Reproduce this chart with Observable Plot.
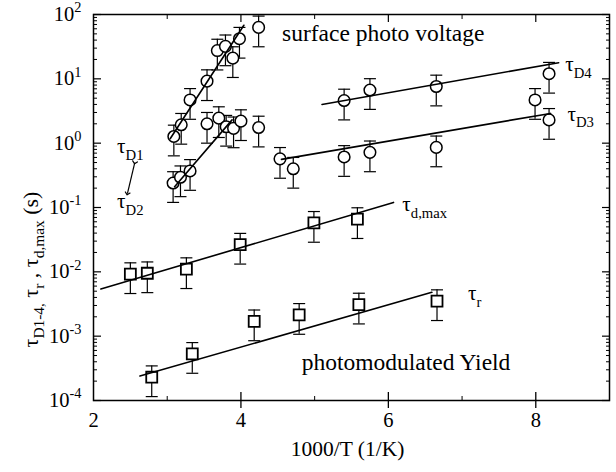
<!DOCTYPE html>
<html><head><meta charset="utf-8">
<script src="https://cdn.jsdelivr.net/npm/d3@7"></script>
<script src="https://cdn.jsdelivr.net/npm/@observablehq/plot@0.6"></script>
<style>body{margin:0;background:#fff}</style>
</head><body><div id="chart"></div>
<script>
// ---- data (1000/T in 1/K, time constants in s) ----
const d1X = [3.09, 3.19, 3.31, 3.54, 3.68, 3.79, 3.89, 3.98, 4.24];
const d1Y = [1.27, 1.93, 4.7, 9.2, 27.5, 32, 21, 42, 63];
const d2X = [3.08, 3.18, 3.31, 3.54, 3.70, 3.80, 3.90, 4.00, 4.24];
const d2Y = [0.24, 0.295, 0.37, 2.0, 2.45, 1.8, 1.7, 2.2, 1.75];
const d3X = [4.53, 4.71, 5.40, 5.75, 6.65, 8.18];
const d3Y = [0.57, 0.40, 0.61, 0.72, 0.86, 2.3];
const d4X = [5.40, 5.75, 6.65, 7.99, 8.18];
const d4Y = [4.6, 6.7, 7.6, 4.7, 12];
const dmaxX = [2.50, 2.73, 3.26, 3.99, 4.99, 5.58];
const dmaxY = [0.0092, 0.0095, 0.011, 0.0264, 0.0577, 0.066];
const rX = [2.79, 3.34, 4.18, 4.79, 5.60, 6.66];
const rY = [0.00023, 0.00053, 0.0017, 0.00214, 0.0031, 0.0035];
const relErr = 0.5; // error bars: +/- 50 %

// fitted lines: [x, y] end points
const fitD1 = [[3.04, 1.17], [4.04, 68]];
const fitD2 = [[3.10, 0.21], [3.88, 2.3]];
const fitD3 = [[4.55, 0.56], [8.20, 2.9]];
const fitD4 = [[5.10, 4.0], [8.31, 17.8]];
const fitDmax = [[2.10, 0.0054], [6.07, 0.12]];
const fitR = [[2.63, 0.00024], [6.59, 0.0048]];

// annotations
const seriesLabels = ["τ_{D4}", "τ_{D3}", "τ_{d,max}", "τ_{r}", "τ_{D1}", "τ_{D2}"];
const seriesLabelX = [8.40, 8.43, 6.19, 7.08, 2.32, 2.32];
const seriesLabelY = [16.7, 2.84, 0.111, 0.0046, 0.885, 0.124];
const titles = ["surface photo voltage", "photomodulated Yield"];
const titleX = [5.93, 6.24];
const titleY = [50.7, 0.00039];
const arrowFrom = [2.56, 0.5];
const arrowTo = [2.46, 0.164];

const xTicks = [2, 4, 6, 8];
const yTicks = [1e-4, 1e-3, 1e-2, 1e-1, 1, 10, 100];
const xTitle = "1000/T (1/K)";
const yTitle = "τ_{D1-4,} τ_{r} , τ_{d,max} (s)";

// ---- build tables ----
const zip = (xs, ys, s) => xs.map((x, i) => ({x, y: ys[i], s}));
const circles = [...zip(d1X, d1Y, "D1"), ...zip(d2X, d2Y, "D2"), ...zip(d3X, d3Y, "D3"), ...zip(d4X, d4Y, "D4")];
const squares = [...zip(dmaxX, dmaxY, "dmax"), ...zip(rX, rY, "r")];
const allPts = [...circles, ...squares];
const fits = Object.entries({D1: fitD1, D2: fitD2, D3: fitD3, D4: fitD4, dmax: fitDmax, r: fitR})
  .flatMap(([name, pts]) => pts.map(([x, y]) => ({name, x, y})));
const labels = seriesLabels.map((t, i) => ({t, x: seriesLabelX[i], y: seriesLabelY[i]}));
const titleRows = titles.map((t, i) => ({t, x: titleX[i], y: titleY[i]}));
const minorY = yTicks.slice(0, -1).flatMap(d => d3.range(2, 10).map(k => k * d));

const cap = {draw(ctx) { ctx.moveTo(-6, 0); ctx.lineTo(6, 0); }};
const serif = "Liberation Serif, Times New Roman, serif";

const svg = Plot.plot({
  width: 616, height: 472,
  marginLeft: 93, marginRight: 7, marginTop: 14, marginBottom: 72,
  style: {fontFamily: serif, fontSize: "20px", background: "white", color: "black"},
  x: {domain: [2, 9]},
  y: {type: "log", domain: [1e-4, 100]},
  marks: [
    // axes
    Plot.axisY(yTicks, {anchor: "left", tickSize: 0, tickPadding: 12, fontSize: 20.5, label: null,
      tickFormat: d => `10^{${Math.round(Math.log10(d))}}`}),
    Plot.axisY(yTicks, {anchor: "left", tickSize: -8, fill: "none", label: null, strokeWidth: 1.2}),
    Plot.axisY(minorY, {anchor: "left", tickSize: -4, fill: "none", label: null}),
    Plot.axisY(yTicks, {anchor: "right", tickSize: -8, fill: "none", label: null, strokeWidth: 1.2}),
    Plot.axisY(minorY, {anchor: "right", tickSize: -4, fill: "none", label: null}),
    Plot.axisX(xTicks, {anchor: "bottom", tickSize: 0, tickPadding: 12, fontSize: 20.5, label: null}),
    Plot.axisX([4, 6, 8], {anchor: "bottom", tickSize: 8, fill: "none", label: null, strokeWidth: 1.3}),
    Plot.axisX([4, 6, 8], {anchor: "bottom", tickSize: -8, fill: "none", label: null, strokeWidth: 1.3}),
    Plot.axisX([3, 5, 7], {anchor: "bottom", tickSize: -4, fill: "none", label: null}),
    Plot.axisX([4, 6, 8], {anchor: "top", tickSize: -7, fill: "none", label: null, strokeWidth: 1.2}),
    Plot.axisX([3, 5, 7], {anchor: "top", tickSize: -4, fill: "none", label: null}),
    Plot.frame({stroke: "black", strokeWidth: 1.5}),
    Plot.text([xTitle], {frameAnchor: "bottom", dy: 55, dx: -4, text: d => d, fontSize: 21.5}),
    Plot.text([yTitle], {frameAnchor: "left", textAnchor: "middle", dx: -63, dy: 62, rotate: -90, text: d => d, fontSize: 22}),
    // error bars
    Plot.ruleX(allPts, {x: "x", y1: d => d.y * (1 - relErr), y2: d => d.y * (1 + relErr), stroke: "black", strokeWidth: 1.2}),
    Plot.dot(allPts, {x: "x", y: d => d.y * (1 + relErr), symbol: cap, fill: "none", stroke: "black", strokeWidth: 1.2}),
    Plot.dot(allPts, {x: "x", y: d => d.y * (1 - relErr), symbol: cap, fill: "none", stroke: "black", strokeWidth: 1.2}),
    // markers
    Plot.dot(circles, {x: "x", y: "y", r: 5.8, fill: "white", stroke: "black", strokeWidth: 1.5}),
    Plot.dot(squares, {x: "x", y: "y", r: 6.2, symbol: "square", fill: "white", stroke: "black", strokeWidth: 1.8}),
    // fits
    Plot.line(fits, {x: "x", y: "y", z: "name", stroke: "black", strokeWidth: 1.6}),
    // annotations
    Plot.text(labels, {x: "x", y: "y", text: "t", textAnchor: "start", fontSize: 21}),
    Plot.text(titleRows, {x: "x", y: "y", text: "t", fontSize: 23.5}),
    Plot.link([0], {x1: () => arrowFrom[0], y1: () => arrowFrom[1], x2: () => arrowTo[0], y2: () => arrowTo[1],
      stroke: "black", strokeWidth: 1.2, markerStart: "arrow", markerEnd: "arrow"})
  ]
});
document.getElementById("chart").append(svg);

// rich text: _{..} subscripts and ^{..} superscripts
const ns = "http://www.w3.org/2000/svg";
svg.querySelectorAll("text").forEach(el => {
  const s = el.textContent;
  if (!/[_^]\{/.test(s) || el.querySelector("tspan")) return;
  const fs = parseFloat(getComputedStyle(el).fontSize) || 20;
  el.textContent = "";
  let shift = 0;
  for (const part of s.split(/([_^]\{[^}]*\})/)) {
    if (!part) continue;
    const m = part.match(/^([_^])\{([^}]*)\}$/);
    const t = document.createElementNS(ns, "tspan");
    const target = m ? (m[1] === "_" ? 0.3 * fs : -0.42 * fs) : 0;
    if (target - shift) t.setAttribute("dy", target - shift);
    shift = target;
    if (m) t.setAttribute("font-size", 0.7 * fs);
    t.textContent = m ? m[2] : part;
    el.append(t);
  }
});
</script></body></html>
